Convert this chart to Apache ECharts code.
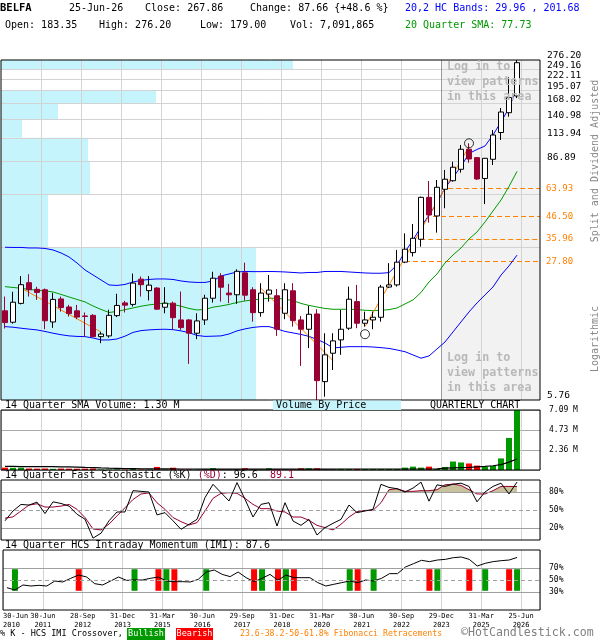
<!DOCTYPE html>
<html>
<head>
<meta charset="utf-8">
<title>BELFA Quarterly</title>
<script src="https://cdn.jsdelivr.net/npm/echarts@6.0.0/dist/echarts.min.js"></script>
<style>
html,body{margin:0;padding:0;background:#fff;}
#chart{width:600px;height:640px;}
</style>
</head>
<body>
<div id="chart"></div>
<script>
// ---------------- data ----------------
const quarters = [
 '2010-06','2010-09','2010-12',
 '2011-03','2011-06','2011-09','2011-12',
 '2012-03','2012-06','2012-09','2012-12',
 '2013-03','2013-06','2013-09','2013-12',
 '2014-03','2014-06','2014-09','2014-12',
 '2015-03','2015-06','2015-09','2015-12',
 '2016-03','2016-06','2016-09','2016-12',
 '2017-03','2017-06','2017-09','2017-12',
 '2018-03','2018-06','2018-09','2018-12',
 '2019-03','2019-06','2019-09','2019-12',
 '2020-03','2020-06','2020-09','2020-12',
 '2021-03','2021-06','2021-09','2021-12',
 '2022-03','2022-06','2022-09','2022-12',
 '2023-03','2023-06','2023-09','2023-12',
 '2024-03','2024-06','2024-09','2024-12',
 '2025-03','2025-06','2025-09','2025-12',
 '2026-03','2026-06'];

const open = [15.9,13.96,17.3,21.9,20.3,20.2,14.0,18.2,16.6,15.9,
 15.0,15.1,11.85,11.95,15.05,17.4,17.1,22.8,20.0,20.6,
 16.56,17.34,14.33,14.33,12.32,14.33,18.35,23.6,19.46,19.08,
 24.5,20.2,15.57,19.23,18.87,15.46,19.97,14.33,12.89,15.34,
 7.10,9.81,11.42,13.04,17.65,13.80,14.33,14.77,20.83,21.35,
 27.67,30.84,35.9,57.85,46.8,63.4,69.9,79.6,100.0,90.9,
 71.7,89.2,121.0,151.6,183.35];
const high = [18.7,19.75,23.6,24.1,20.9,20.5,19.5,18.7,17.0,17.0,
 15.6,15.3,12.5,16.1,19.3,17.8,24.3,23.5,23.6,20.8,
 20.8,17.65,19.8,14.45,15.46,19.08,24.8,24.4,21.6,25.5,
 27.5,20.8,21.77,23.9,20.36,21.77,21.77,15.0,16.81,16.19,
 12.32,12.32,16.06,20.94,21.35,15.75,15.75,21.35,27.35,31.8,
 38.4,42.7,58.3,69.7,70.5,79.0,86.8,105.0,107.0,91.3,
 90.6,124.5,159.9,226.8,276.20];
const low = [13.0,13.74,17.1,18.7,18.0,12.9,13.1,15.75,14.9,14.45,
 11.8,11.77,11.0,11.7,14.8,15.6,16.7,18.7,17.9,16.06,
 15.46,12.79,12.79,8.69,11.51,13.54,17.46,17.65,17.34,17.2,
 17.86,14.05,14.87,17.65,11.95,14.45,13.28,8.49,10.39,5.76,
 5.98,8.11,9.63,12.79,13.04,13.28,12.89,14.05,20.6,20.94,
 27.35,29.49,33.0,43.35,38.7,51.1,69.15,76.6,85.8,70.5,
 53.6,83.6,111.1,144.8,179.00];
const close = [13.9,17.53,21.4,20.2,19.6,14.2,18.1,16.5,15.4,14.8,
 14.9,11.85,12.2,15.1,16.9,16.95,21.8,21.4,21.3,16.2,
 17.34,14.71,13.13,12.32,14.17,18.35,23.04,20.8,19.08,24.93,
 19.0,15.57,19.46,20.13,12.89,20.2,14.22,12.89,15.29,7.18,
 9.63,11.29,12.89,18.14,13.80,14.33,14.77,20.83,21.35,27.67,
 32.05,36.3,57.85,47.3,64.86,71.1,81.5,100.0,89.5,71.3,
 90.2,117.6,152.8,180.20,267.86];

// 20,2 HC bands and 20 quarter SMA
const bandUpper = [32.77,32.70,32.70,32.51,32.51,32.33,31.78,30.71,29.35,27.41,
 25.31,23.91,22.59,21.34,21.22,21.46,22.08,22.46,22.72,22.85,
 22.85,22.72,22.33,22.08,21.96,21.96,22.33,23.64,24.18,24.74,
 24.88,24.83,24.83,24.88,24.83,24.74,24.60,24.46,24.60,24.60,
 24.88,24.88,24.88,24.74,24.60,24.46,24.38,24.38,24.55,26.79,
 31.06,35.61,41.29,47.33,54.25,64.35,72.52,82.19,95.30,99.74,
 103.79,117.64,136.39,159.95,201.68];
const sma20 = [20.93,20.74,20.55,20.27,20.09,19.93,19.71,19.15,18.62,18.09,
 17.59,16.80,16.15,15.60,15.78,16.11,16.42,16.75,17.00,17.19,
 17.34,17.09,16.75,16.33,16.05,16.14,16.57,16.80,17.09,17.49,
 17.79,17.99,18.20,18.34,18.34,18.13,17.85,17.29,16.90,16.61,
 16.33,16.18,16.18,16.18,16.11,16.00,15.92,16.00,16.11,16.42,
 17.19,17.99,19.59,22.08,24.18,27.41,30.02,32.51,36.02,39.00,
 43.70,49.53,56.13,65.45,77.73];
const bandLower = [13.28,13.19,13.04,12.91,12.79,12.57,12.32,12.11,11.95,11.88,
 11.85,11.67,11.41,11.41,11.54,11.91,12.43,12.69,12.79,12.86,
 12.89,12.83,12.65,12.40,12.01,11.88,11.91,11.95,12.21,12.65,
 12.94,13.16,13.28,13.28,12.94,12.57,12.36,12.15,11.88,11.48,
 11.03,10.41,10.50,10.57,10.57,10.57,10.53,10.45,10.36,10.18,
 9.98,9.62,9.27,9.51,10.30,11.15,12.50,14.01,15.69,17.39,
 19.05,20.86,23.87,26.51,29.96];

// volume (millions) and its 14 quarter SMA
const volume = [0.28,0.26,0.27,0.18,0.16,0.18,0.14,0.17,0.16,0.15,
 0.16,0.17,0.06,0.05,0.07,0.05,0.22,0.06,0.05,0.36,
 0.06,0.27,0.05,0.06,0.05,0.06,0.22,0.05,0.04,0.06,
 0.21,0.05,0.05,0.20,0.06,0.05,0.05,0.20,0.20,0.20,
 0.06,0.05,0.12,0.12,0.12,0.12,0.12,0.12,0.12,0.12,
 0.28,0.40,0.28,0.40,0.12,0.36,1.00,0.89,0.77,0.52,
 0.36,0.48,1.37,3.79,7.091865];
const volumeSma = [0.42,0.42,0.41,0.41,0.40,0.40,0.39,0.38,0.36,0.34,
 0.31,0.29,0.25,0.22,0.20,0.18,0.17,0.15,0.14,0.13,
 0.13,0.13,0.12,0.12,0.12,0.11,0.11,0.11,0.11,0.11,
 0.10,0.10,0.10,0.10,0.10,0.10,0.10,0.11,0.11,0.11,
 0.11,0.11,0.12,0.12,0.12,0.12,0.12,0.12,0.12,0.12,
 0.12,0.12,0.12,0.12,0.13,0.22,0.26,0.28,0.30,0.36,
 0.42,0.50,0.64,0.93,1.30];

// 14 quarter fast stochastic
const stochK = [32,48.4,59.3,58.2,63.1,44,63.6,60.9,56.5,42.9,
 34.7,3.1,11.3,32,46.7,46.7,82.2,81.1,80,41.8,
 45.6,32,17.8,26,34.4,70.6,92.8,78.9,65,95.6,
 67.8,38.3,59.4,62.2,23.3,62.2,31.7,24.4,34.4,8.3,
 20.6,27.8,34.4,58.3,45.6,48.3,51.1,92.8,87.6,85.5,
 80,86.5,96.4,64.7,92,89.3,93.1,94.7,89.3,63.6,
 80,89.3,94.7,76.7,96.6];
const stochD = [36.4,38.5,48.4,58.2,60.4,54.9,54.9,56.5,59.3,51.1,
 37.4,18.4,16.7,26.5,40.2,53.8,67.5,76.7,78.4,62,
 51.1,37.4,30.6,25,28.9,48.3,69.4,77.8,78.9,77.8,
 69.4,59.4,52.2,52.2,48.3,46.7,38.3,38.3,32.8,24.4,
 20.6,16.7,26.1,38.3,47.2,49.4,49.4,62.2,83.8,85.5,
 81.1,81.1,82.2,82.2,83.8,92,93.1,90.9,83.8,76.7,
 76.7,82.2,89.3,89.3,89.1];

// 14 quarter HCS intraday momentum
const imi = [37.2,33.3,41.7,40,41.1,40,48.3,46.7,52.8,58.3,
 55,43.9,41.7,48.3,55,49.4,50,50,52.8,55,
 48.3,47.2,47.2,46.7,51.1,63.3,66.7,59.4,55.6,63.3,
 53.9,47.2,52.8,59.4,49.4,58.3,53.9,53.9,53.9,45.6,
 40,42.8,45.6,48.3,45.6,50,48.3,52.8,60.6,60.6,
 71.7,77.2,82.8,80.6,83.3,84.4,87.2,88.3,84.4,73.3,
 77.8,80.6,82.2,83.3,87.6];
const imiBullish = [1,16,20,25,32,35,43,46,54,60,64];
const imiBearish = [9,19,21,31,34,36,44,53,58,63];

// price axis ticks, labels, fibonacci and volume-by-price
const priceTicks = [5.76,32.80,59.85,86.89,113.94,140.98,168.02,195.07,222.11,249.16,276.20];
const priceLabelsA = [5.76,86.89,140.98,195.07,249.16];
const priceLabelsB = [113.94,168.02,222.11,276.20];
const fibLevels = [63.93,46.50,35.96,27.80];
const fibStartQuarter = [55.4,53.5,51.9,50];
const vbpVolume = [25.5,4.7,8.9,8.7,2.1,5.7,15.5,0,0,29.2];   // bottom band to top band
const trendLines = [[[2,20.6],[12,12.5]], [[32,20.55],[41,9.02]], [[45,13.3],[58,103]]];
const patternCircles = [[45,12.18],[58,107.0]];
const xTickLabels = ['30-Jun\n2010','30-Jun\n2011','28-Sep\n2012','31-Dec\n2013','31-Mar\n2015',
 '30-Jun\n2016','29-Sep\n2017','31-Dec\n2018','31-Mar\n2020','30-Jun\n2021','30-Sep\n2022',
 '29-Dec\n2023','31-Mar\n2025','25-Jun\n2026'];

// ---------------- layout helpers ----------------
const MONO = '"DejaVu Sans Mono","Liberation Mono",monospace';
const X_MAX = 67.375;      // visible span in quarters
const LOCKED_FROM = 55;    // start of the shaded "log in" area
const VBP_MAX = 53.9;
const last = quarters.length - 1;
const xs = quarters.map((q, i) => i + 0.5);
const pts = arr => arr.map((v, i) => [xs[i], v]);
const ORANGE = '#ff8000', MAROON = '#990033', GREEN = '#009900';

const xBase = (grid, extra) => Object.assign({
  type: 'value', gridIndex: grid, min: 0, max: X_MAX, interval: 5,
  axisLine: {show: false}, axisTick: {show: false}, axisLabel: {show: false},
  splitLine: {show: grid > 0, lineStyle: {color: '#d3d3d3', width: 1}}
}, extra || {});

const priceAxis = labels => ({type: 'log', gridIndex: 0, min: priceTicks[0], max: priceTicks[priceTicks.length - 1],
  logBase: 10, position: 'right', offset: 0, axisLine: {show: false}, axisTick: {show: false}, splitLine: {show: false},
  axisLabel: {customValues: labels, showMinLabel: true, showMaxLabel: true, hideOverlap: false,
    margin: 7, verticalAlign: 'bottom', color: '#000', fontSize: 9.5, lineHeight: 8, fontFamily: MONO,
    formatter: v => (+v).toFixed(2)}});

const gridBase = (top, height) => ({left: 1, right: 60, top, height, show: true,
  borderColor: '#000', borderWidth: 1, backgroundColor: 'rgba(0,0,0,0)', z: 20});

const emptyLine = (xi, yi, z, extra) => Object.assign({type: 'line', xAxisIndex: xi, yAxisIndex: yi,
  data: [], z, silent: true, symbol: 'none'}, extra);

const hLineMarks = (solid, dashed) => ({
  silent: true, symbol: ['none', 'none'], label: {show: false}, animation: false,
  data: solid.map(v => ({yAxis: v, lineStyle: {color: '#a0a0a0', type: 'solid', width: 1}}))
    .concat(dashed.map(v => ({yAxis: v, lineStyle: {color: '#a0a0a0', type: [4, 3], width: 1}})))
});

function stochFill(params, api) {
  const i = params.dataIndex;
  if (i >= stochD.length - 1) return;
  const x0 = xs[i], x1 = xs[i + 1], y0 = stochD[i], y1 = stochD[i + 1];
  const children = [];
  [[80, 1], [20, -1]].forEach(([t, s]) => {
    const a0 = s * (y0 - t), a1 = s * (y1 - t);
    let p = null;
    if (a0 >= 0 && a1 >= 0) p = [[x0, t], [x0, y0], [x1, y1], [x1, t]];
    else if (a0 > 0 || a1 > 0) {
      const xc = x0 + (t - y0) / (y1 - y0) * (x1 - x0);
      p = a0 > 0 ? [[x0, t], [x0, y0], [xc, t]] : [[xc, t], [x1, y1], [x1, t]];
    }
    if (p) children.push({type: 'polygon', shape: {points: p.map(q => api.coord(q))},
      style: {fill: '#c9c19b', stroke: null}});
  });
  return {type: 'group', children};
}

function imiMarker(params, api) {
  const u = api.value(0), bull = api.value(1) > 0;
  const top = api.coord([u, 68]), bot = api.coord([u, 32]);
  const w = api.size([1, 0])[0] * 0.75;
  return {type: 'rect', shape: {x: top[0] - w / 2, y: top[1], width: w, height: bot[1] - top[1]},
    style: {fill: bull ? GREEN : '#ff0000'}};
}

function vbpRect(params, api) {
  const v = api.value(0), lo = api.value(1), hi = api.value(2);
  if (!v) return;
  const p0 = api.coord([0, hi]), p1 = api.coord([v, lo]);
  return {type: 'rect', shape: {x: p0[0], y: p0[1], width: p1[0] - p0[0], height: p1[1] - p0[1]},
    style: {fill: '#c6f4fc'}};
}

const txt = (x, y, text, size, color, extra) => ({
  type: 'text', x, y, z: 100, silent: true,
  style: Object.assign({text, fill: color || '#000', font: size + 'px ' + MONO,
    textAlign: 'left', align: 'left', textVerticalAlign: 'middle', verticalAlign: 'middle'}, extra || {})
});
const rect = (x, y, w, h, color) => ({type: 'rect', z: 99, silent: true,
  shape: {x, y, width: w, height: h}, style: {fill: color}});
const cw = 6.02; // char width for 10px mono

const chg = close[last] - close[last - 1];
const lockFont = 'bold 11.7px ' + MONO;
const graphics = [
  txt(0, 8, 'BELFA', 10, '#000', {font: 'bold 10.5px ' + MONO}),
  txt(69, 8, '25-Jun-26', 10),
  txt(145, 8, 'Close: ' + close[last].toFixed(2), 10),
  txt(250, 8, 'Change: ' + chg.toFixed(2) + ' {+' + (chg / close[last - 1] * 100).toFixed(1) + ' %}', 10),
  txt(405, 8, '20,2 HC Bands: ' + bandLower[last].toFixed(2) + ' , ' + bandUpper[last].toFixed(2), 10, '#0000ff'),
  txt(5, 25, 'Open: ' + open[last].toFixed(2), 10),
  txt(99, 25, 'High: ' + high[last].toFixed(2), 10),
  txt(200, 25, 'Low: ' + low[last].toFixed(2), 10),
  txt(290, 25, 'Vol: ' + Math.round(volume[last] * 1e6).toLocaleString('en-US'), 10),
  txt(405, 25, '20 Quarter SMA: ' + sma20[last].toFixed(2), 10, GREEN),

  txt(447, 67, 'Log in to', 11.7, '#b8b8b8', {font: lockFont}),
  txt(447, 82, 'view patterns', 11.7, '#b8b8b8', {font: lockFont}),
  txt(447, 97, 'in this area', 11.7, '#b8b8b8', {font: lockFont}),
  txt(447, 358, 'Log in to', 11.7, '#b8b8b8', {font: lockFont}),
  txt(447, 373, 'view patterns', 11.7, '#b8b8b8', {font: lockFont}),
  txt(447, 388, 'in this area', 11.7, '#b8b8b8', {font: lockFont}),

  txt(5, 405.5, '14 Quarter SMA Volume: ' + volumeSma[last].toFixed(2) + ' M', 10),
  rect(273, 400.5, 128, 9.5, '#c6f4fc'),
  txt(276, 405.5, 'Volume By Price', 10),
  txt(430, 405.5, 'QUARTERLY CHART', 10),

  txt(5, 475, '14 Quarter Fast Stochastic (%K) ', 10),
  txt(5 + 32 * cw, 475, '(%D)', 10, MAROON),
  txt(5 + 36 * cw, 475, ': ' + stochK[last].toFixed(1) + '  ', 10),
  txt(5 + 44 * cw, 475, stochD[last].toFixed(1), 10, MAROON),
  txt(5, 545.5, '14 Quarter HCS Intraday Momentum (IMI): ' + imi[last].toFixed(1), 10),

  {type: 'text', x: 595, y: 161, rotation: Math.PI / 2, z: 100, silent: true,
   style: {text: 'Split and Dividend Adjusted', fill: '#888', font: '10px ' + MONO,
     textAlign: 'center', align: 'center', textVerticalAlign: 'middle', verticalAlign: 'middle'}},
  {type: 'text', x: 595, y: 339, rotation: Math.PI / 2, z: 100, silent: true,
   style: {text: 'Logarithmic', fill: '#888', font: '10px ' + MONO,
     textAlign: 'center', align: 'center', textVerticalAlign: 'middle', verticalAlign: 'middle'}},

  txt(0, 634, '% K - HCS IMI Crossover,', 8.5),
  rect(127, 628, 38, 12, GREEN),
  txt(146, 634, 'Bullish', 8.5, '#fff', {textAlign: 'center', align: 'center'}),
  rect(176, 628, 37, 12, '#ff0000'),
  txt(194.5, 634, 'Bearish', 8.5, '#fff', {textAlign: 'center', align: 'center'}),
  txt(240, 634, '23.6-38.2-50-61.8% Fibonacci Retracements', 8.2, ORANGE),
  txt(461, 633, '\u00a9HotCandlestick.com', 11.6, '#808080')
];

const option = {
  animation: false,
  backgroundColor: '#fff',
  textStyle: {fontFamily: MONO},
  grid: [gridBase(60, 340), gridBase(410, 60), gridBase(480, 60), gridBase(550, 60)],
  xAxis: [
    xBase(0), xBase(1), xBase(2),
    xBase(3, {axisLabel: {show: true, color: '#000', fontSize: 7, lineHeight: 9, margin: 2,
      fontFamily: MONO, alignMinLabel: 'left', showMinLabel: true, showMaxLabel: true, hideOverlap: false,
      formatter: v => { const k = Math.round(v / 5); return (Math.abs(v - 5 * k) < 1e-6 && xTickLabels[k]) ? xTickLabels[k] : ''; }}}),
    {type: 'value', gridIndex: 0, min: 0, max: VBP_MAX, show: false}
  ],
  yAxis: [
    priceAxis(priceLabelsA),
    {type: 'value', gridIndex: 1, min: 0, max: volume[last], interval: volume[last] / 3, position: 'right',
     axisLine: {show: false}, axisTick: {show: false},
     splitLine: {show: true, lineStyle: {color: '#a8a8a8'}},
     axisLabel: {color: '#000', fontSize: 8, fontFamily: MONO, margin: 9, showMinLabel: true, showMaxLabel: true,
       hideOverlap: false, formatter: v => v <= 0.001 ? '' : v.toFixed(2) + ' M'}},
    {type: 'value', gridIndex: 2, min: 0, max: 100, position: 'right',
     axisLine: {show: false}, axisTick: {show: false}, splitLine: {show: false},
     axisLabel: {customValues: [20, 50, 80], color: '#000', fontSize: 8, fontFamily: MONO, margin: 9,
       formatter: '{value}%'}},
    {type: 'value', gridIndex: 3, min: 0, max: 100, position: 'right',
     axisLine: {show: false}, axisTick: {show: false}, splitLine: {show: false},
     axisLabel: {customValues: [30, 50, 70], color: '#000', fontSize: 8, fontFamily: MONO, margin: 9,
       formatter: '{value}%'}},
    priceAxis(priceLabelsB)
  ],
  graphic: {elements: graphics},
  series: [
    // shaded locked area
    emptyLine(0, 0, 1, {markArea: {silent: true, itemStyle: {color: '#f2f2f2'},
      data: [[{xAxis: LOCKED_FROM, yAxis: priceTicks[0]}, {xAxis: X_MAX, yAxis: priceTicks[priceTicks.length - 1]}]]}}),
    // volume by price
    {type: 'custom', xAxisIndex: 4, yAxisIndex: 0, z: 2, silent: true, clip: true,
     renderItem: vbpRect, encode: {x: 0, y: [1, 2]},
     data: vbpVolume.map((v, k) => [v, priceTicks[k], priceTicks[k + 1]])},
    // grid lines of price panel
    emptyLine(0, 0, 3, {markLine: {silent: true, symbol: ['none', 'none'], label: {show: false}, animation: false,
      lineStyle: {color: '#d3d3d3', type: 'solid', width: 1},
      data: priceTicks.slice(1, -1).map(v => ({yAxis: v}))
        .concat(xTickLabels.slice(1).map((t, k) => ({xAxis: 5 * (k + 1)})))
        .concat([{xAxis: LOCKED_FROM, lineStyle: {color: '#9a9a9a', type: 'solid', width: 1}}])}}),
    // fibonacci retracements
    emptyLine(0, 0, 4, {markLine: {silent: true, symbol: ['none', 'none'], animation: false,
      lineStyle: {color: ORANGE, type: [5, 3], width: 1.2},
      label: {show: true, position: 'end', distance: 6, color: ORANGE, fontSize: 9, fontFamily: MONO},
      data: fibLevels.map((lv, k) => [
        {coord: [fibStartQuarter[k] + 0.5, lv], label: {formatter: lv.toFixed(2)}},
        {coord: [X_MAX, lv], label: {formatter: lv.toFixed(2)}}])}}),
    // bands + sma
    {type: 'line', name: 'upper', xAxisIndex: 0, yAxisIndex: 0, data: pts(bandUpper), z: 5, symbol: 'none',
     lineStyle: {color: '#0000ff', width: 1}, silent: true},
    {type: 'line', name: 'sma', xAxisIndex: 0, yAxisIndex: 0, data: pts(sma20), z: 5, symbol: 'none',
     lineStyle: {color: GREEN, width: 1}, silent: true},
    {type: 'line', name: 'lower', xAxisIndex: 0, yAxisIndex: 0, data: pts(bandLower), z: 5, symbol: 'none',
     lineStyle: {color: '#0000ff', width: 1}, silent: true},
    // trend lines
    ...trendLines.map(seg => ({type: 'line', xAxisIndex: 0, yAxisIndex: 0, z: 6, symbol: 'none', silent: true,
      data: seg.map(p => [p[0] + 0.5, p[1]]), lineStyle: {color: ORANGE, width: 1}})),
    // candles
    {type: 'candlestick', xAxisIndex: 0, yAxisIndex: 0, z: 7, barWidth: 6, silent: true,
     data: quarters.map((q, i) => [xs[i], open[i], close[i], low[i], high[i]]),
     itemStyle: {color: '#fff', color0: MAROON, borderColor: '#000', borderColor0: MAROON, borderWidth: 1}},
    // pattern circles
    {type: 'scatter', xAxisIndex: 0, yAxisIndex: 0, z: 8, silent: true, symbol: 'circle', symbolSize: 9,
     data: patternCircles.map(p => [p[0] + 0.5, p[1]]),
     itemStyle: {color: 'rgba(0,0,0,0)', borderColor: '#000', borderWidth: 1}},

    // volume panel
    {type: 'bar', xAxisIndex: 1, yAxisIndex: 1, barWidth: 6, z: 3, silent: true,
     data: volume.map((v, i) => ({value: [xs[i], v], itemStyle: {color: close[i] >= open[i] ? GREEN : '#ff0000'}}))},
    {type: 'line', xAxisIndex: 1, yAxisIndex: 1, z: 4, symbol: 'none', silent: true,
     data: pts(volumeSma), lineStyle: {color: '#000', width: 1.2}},

    // stochastic panel
    emptyLine(2, 2, 2, {markLine: hLineMarks([20, 80], [50])}),
    {type: 'custom', xAxisIndex: 2, yAxisIndex: 2, z: 3, silent: true, renderItem: stochFill,
     encode: {x: 0, y: 1}, data: pts(stochD)},
    {type: 'line', xAxisIndex: 2, yAxisIndex: 2, z: 4, symbol: 'none', silent: true,
     data: pts(stochD), lineStyle: {color: MAROON, width: 1}},
    {type: 'line', xAxisIndex: 2, yAxisIndex: 2, z: 5, symbol: 'none', silent: true,
     data: pts(stochK), lineStyle: {color: '#000', width: 1}},

    // IMI panel
    emptyLine(3, 3, 2, {markLine: hLineMarks([30, 70], [50])}),
    {type: 'custom', xAxisIndex: 3, yAxisIndex: 3, z: 3, silent: true, renderItem: imiMarker,
     encode: {x: 0, y: 1},
     data: imiBullish.map(i => [xs[i], 1]).concat(imiBearish.map(i => [xs[i], 0]))},
    {type: 'line', xAxisIndex: 3, yAxisIndex: 3, z: 4, symbol: 'none', silent: true,
     data: pts(imi), lineStyle: {color: '#000', width: 1}}
  ]
};

const chart = echarts.init(document.getElementById('chart'), null, {renderer: 'canvas'});
chart.setOption(option);
</script>
</body>
</html>
